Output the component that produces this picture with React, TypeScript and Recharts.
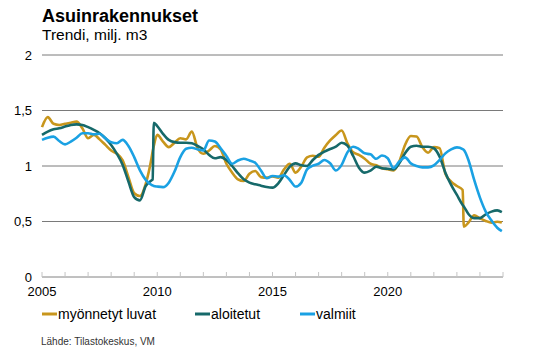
import React from 'react';
import { LineChart, Line, XAxis, YAxis, CartesianGrid } from 'recharts';

const FONT = '"Liberation Sans", Arial, Helvetica, sans-serif';

const times = [
  2005, 2005.25, 2005.5, 2005.75,
  2006, 2006.25, 2006.5, 2006.75,
  2007, 2007.25, 2007.5, 2007.75,
  2008, 2008.25, 2008.5, 2008.75,
  2009, 2009.25, 2009.5, 2009.75, 2009.8, 2009.85,
  2010, 2010.25, 2010.5, 2010.75,
  2011, 2011.25, 2011.5, 2011.75,
  2012, 2012.25, 2012.5, 2012.75,
  2013, 2013.25, 2013.5, 2013.75,
  2014, 2014.25, 2014.5, 2014.75,
  2015, 2015.25, 2015.5, 2015.75,
  2016, 2016.25, 2016.5, 2016.75,
  2017, 2017.25, 2017.5, 2017.75,
  2018, 2018.25, 2018.5, 2018.75,
  2019, 2019.25, 2019.5, 2019.75,
  2020, 2020.25, 2020.5, 2020.75,
  2021, 2021.25, 2021.5, 2021.75,
  2022, 2022.25, 2022.5, 2022.75,
  2023, 2023.25, 2023.3, 2023.5, 2023.75,
  2024, 2024.25, 2024.5, 2024.75, 2024.95,
];

const luvat = [
  1.35, 1.44, 1.38, 1.37,
  1.38, 1.39, 1.40, 1.34,
  1.25, 1.28, 1.24, 1.19,
  1.14, 1.11, 1.05, 0.90,
  0.755, 0.73, 0.84, 1.07, 1.13, 1.18,
  1.28, 1.22, 1.17, 1.21,
  1.25, 1.24, 1.31, 1.16,
  1.11, 1.14, 1.18, 1.15,
  1.02, 0.94, 0.88, 0.865,
  0.93, 0.955, 0.90, 0.895,
  0.905, 0.895, 0.97, 1.02,
  0.94, 0.995, 1.078, 1.093,
  1.084, 1.165, 1.23, 1.28,
  1.32, 1.205, 1.123, 1.10,
  1.066, 1.021, 1.006, 0.98,
  0.97, 0.96, 1.04, 1.19,
  1.27, 1.265, 1.17, 1.12,
  1.17, 1.16, 0.93, 0.86,
  0.82, 0.784, 0.453, 0.49, 0.555,
  0.528, 0.505, 0.49, 0.498, 0.49,
];

const aloitetut = [
  1.28, 1.31, 1.33, 1.34,
  1.355, 1.37, 1.375, 1.37,
  1.35, 1.325, 1.295, 1.25,
  1.19, 1.11, 1.01, 0.86,
  0.72, 0.69, 0.82, 0.87, 0.88, 1.39,
  1.36, 1.29, 1.235, 1.215,
  1.21, 1.21, 1.205, 1.18,
  1.15, 1.10, 1.07, 1.08,
  1.055, 1.00, 0.935, 0.88,
  0.85, 0.835, 0.823, 0.81,
  0.805, 0.844, 0.92, 0.994,
  1.024, 1.006, 1.00, 1.054,
  1.10, 1.13, 1.153, 1.174,
  1.21, 1.183, 1.09, 0.985,
  0.94, 0.958, 0.994, 0.98,
  0.975, 0.97, 1.024, 1.114,
  1.174, 1.183, 1.174, 1.174,
  1.16, 1.084, 0.94, 0.83,
  0.739, 0.649, 0.635, 0.568, 0.53,
  0.53, 0.565, 0.589, 0.60, 0.585,
];

const valmiit = [
  1.235, 1.255, 1.265, 1.225,
  1.195, 1.22, 1.255, 1.295,
  1.295, 1.285, 1.29, 1.25,
  1.215, 1.205, 1.235, 1.18,
  1.08, 0.96, 0.875, 0.83, 0.825, 0.82,
  0.815, 0.81, 0.85, 0.95,
  1.08, 1.155, 1.165, 1.15,
  1.14, 1.23, 1.22, 1.16,
  1.09, 1.02, 1.05, 1.065,
  1.05, 1.03, 0.96, 0.89,
  0.91, 0.904, 0.916, 0.874,
  0.815, 0.85, 0.97, 1.003,
  1.02, 1.054, 1.024, 0.96,
  1.01, 1.123, 1.174, 1.153,
  1.114, 1.105, 1.065, 1.095,
  1.07, 0.982, 1.04, 1.078,
  1.024, 1.00, 0.988, 0.988,
  1.006, 1.054, 1.114, 1.15,
  1.168, 1.153, 1.145, 1.054, 0.874,
  0.715, 0.589, 0.508, 0.444, 0.414,
];

const yearTicks = [
  2005, 2006, 2007, 2008, 2009, 2010, 2011, 2012, 2013, 2014,
  2015, 2016, 2017, 2018, 2019, 2020, 2021, 2022, 2023, 2024, 2025,
];
const labeledYears = [2005, 2010, 2015, 2020];
const yTicks = [0, 0.5, 1, 1.5, 2];

const seriesNames = ['myönnetyt luvat', 'aloitetut', 'valmiit'];
const seriesColors = ['#C8961C', '#16696A', '#1AA1E3'];

const data = times.map((t, i) => ({
  t,
  luvat: luvat[i],
  aloitetut: aloitetut[i],
  valmiit: valmiit[i],
}));

const legendX = [42, 195, 300];

export default function App() {
  return (
    <div
      style={{
        position: 'absolute',
        left: 0,
        top: 0,
        width: 539,
        height: 351,
        background: '#fff',
        fontFamily: FONT,
      }}
    >
      <LineChart
        width={539}
        height={351}
        data={data}
        margin={{ top: 55, right: 36, bottom: 44, left: 0 }}
      >
        <CartesianGrid horizontal vertical={false} stroke="#7a7a7a" strokeWidth={1} />
        <XAxis
          dataKey="t"
          type="number"
          domain={[2005, 2025]}
          ticks={yearTicks}
          interval={0}
          height={30}
          stroke="#c4c4c4"
          tickSize={-5}
          tickMargin={15}
          tickFormatter={(v: number) => (labeledYears.includes(v) ? String(v) : '')}
          tick={{ fill: '#000', fontSize: 13, fontFamily: FONT }}
        />
        <YAxis
          domain={[0, 2]}
          ticks={yTicks}
          width={42}
          axisLine={false}
          tickLine={false}
          tickSize={0}
          tickMargin={10}
          tickFormatter={(v: number) => String(v).replace('.', ',')}
          tick={{ fill: '#000', fontSize: 13, fontFamily: FONT }}
        />
        <Line
          dataKey="luvat"
          type="monotone"
          stroke={seriesColors[0]}
          strokeWidth={2.6}
          dot={false}
          isAnimationActive={false}
        />
        <Line
          dataKey="aloitetut"
          type="monotone"
          stroke={seriesColors[1]}
          strokeWidth={2.6}
          dot={false}
          isAnimationActive={false}
        />
        <Line
          dataKey="valmiit"
          type="monotone"
          stroke={seriesColors[2]}
          strokeWidth={2.6}
          dot={false}
          isAnimationActive={false}
        />
      </LineChart>
      <svg
        width={539}
        height={351}
        style={{ position: 'absolute', left: 0, top: 0, pointerEvents: 'none' }}
      >
        <text x={42} y={22} fontSize={18} fontWeight="bold" fill="#000" fontFamily={FONT}>
          Asuinrakennukset
        </text>
        <text x={42} y={40} fontSize={15.5} fill="#000" fontFamily={FONT}>
          Trendi, milj. m3
        </text>
        {seriesNames.map((name, i) => (
          <g key={name}>
            <line
              x1={legendX[i]}
              x2={legendX[i] + 15}
              y1={314}
              y2={314}
              stroke={seriesColors[i]}
              strokeWidth={3}
            />
            <text x={legendX[i] + 16} y={319} fontSize={14} fill="#000" fontFamily={FONT}>
              {name}
            </text>
          </g>
        ))}
        <text x={41} y={345} fontSize={10} fill="#333" fontFamily={FONT}>
          Lähde: Tilastokeskus, VM
        </text>
      </svg>
    </div>
  );
}
